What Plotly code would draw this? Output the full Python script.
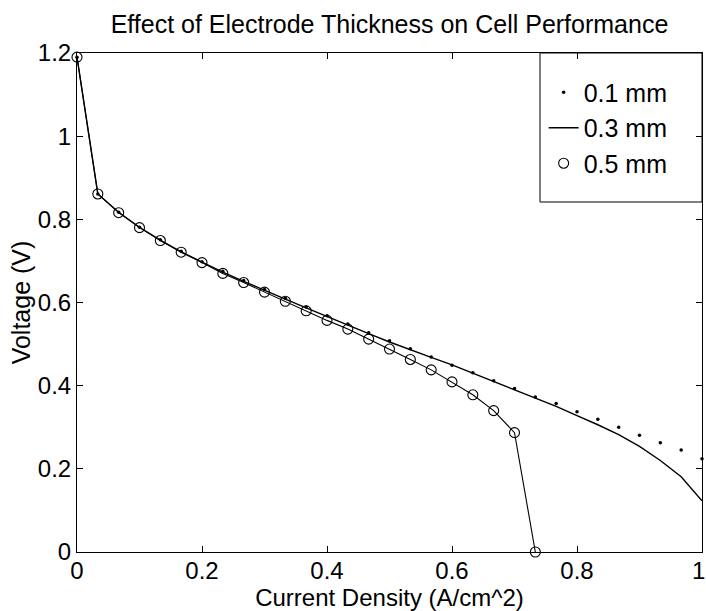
import plotly.graph_objects as go

# ---- data ----
step = 1.0 / 30.0
x_01 = [i * step for i in range(31)]
v_01 = [1.19, 0.861, 0.817, 0.781, 0.751, 0.723, 0.698, 0.675, 0.653, 0.631,
        0.610, 0.589, 0.568, 0.548, 0.527, 0.508, 0.489, 0.469, 0.449, 0.431,
        0.412, 0.393, 0.373, 0.357, 0.337, 0.319, 0.300, 0.281, 0.263, 0.245, 0.224]

x_03 = [i * step for i in range(31)]
v_03 = [1.19, 0.861, 0.817, 0.781, 0.750, 0.722, 0.697, 0.673, 0.651, 0.629,
        0.608, 0.587, 0.566, 0.546, 0.525, 0.505, 0.486, 0.468, 0.450, 0.430,
        0.410, 0.391, 0.370, 0.350, 0.328, 0.306, 0.282, 0.254, 0.220, 0.181, 0.123]

x_05 = [i * step for i in range(23)]
v_05 = [1.19, 0.861, 0.816, 0.780, 0.749, 0.721, 0.696, 0.670, 0.648, 0.625,
        0.603, 0.580, 0.557, 0.536, 0.512, 0.488, 0.463, 0.438, 0.409, 0.378,
        0.340, 0.287, 0.0]

names = ["0.1 mm", "0.3 mm", "0.5 mm"]
x_ticks = [0, 0.2, 0.4, 0.6, 0.8, 1]
x_ticktext = ["0", "0.2", "0.4", "0.6", "0.8", "1\u00a0"]
y_ticks = [0, 0.2, 0.4, 0.6, 0.8, 1, 1.2]
y_ticktext = ["0", "0.2", "0.4", "0.6", "0.8", "1", "1.2"]

FONT = "Liberation Sans, Arial, Helvetica, sans-serif"

fig = go.Figure()

# 0.3 mm solid line
fig.add_trace(go.Scatter(x=x_03, y=v_03, mode="lines", name=names[1],
                         line=dict(color="black", width=1.4),
                         legendgroup="b", legendrank=2, cliponaxis=False))
# 0.5 mm connecting line (no legend)
fig.add_trace(go.Scatter(x=x_05, y=v_05, mode="lines", showlegend=False,
                         line=dict(color="black", width=1.1), cliponaxis=False))
# 0.5 mm circles
fig.add_trace(go.Scatter(x=x_05, y=v_05, mode="markers", name=names[2],
                         marker=dict(symbol="circle-open", size=10,
                                     color="black", line=dict(width=1.1)),
                         legendgroup="c", legendrank=3, cliponaxis=False))
# 0.1 mm dots
fig.add_trace(go.Scatter(x=x_01, y=v_01, mode="markers", name=names[0],
                         marker=dict(symbol="circle", size=3.5, color="black"),
                         legendgroup="a", legendrank=1, cliponaxis=False))

# legend box
fig.add_shape(type="rect", xref="paper", yref="paper",
              x0=0.7408, x1=1.0, y0=0.7014, y1=1.0,
              line=dict(color="black", width=1), fillcolor="rgba(0,0,0,0)")

axis_common = dict(
    showgrid=False, zeroline=False, showline=True, linecolor="black",
    linewidth=1, mirror="allticks", ticks="inside", ticklen=6,
    tickcolor="black", tickwidth=1, ticklabeloverflow="allow",
    automargin=False,
    tickfont=dict(family=FONT, size=24, color="black"),
)

fig.update_layout(
    width=706, height=611,
    margin=dict(l=77, r=4, t=53, b=59),
    paper_bgcolor="white", plot_bgcolor="white",
    font=dict(family=FONT, color="black"),
    title=dict(text="Effect of Electrode Thickness on Cell Performance",
               x=0.5, xref="paper", xanchor="center",
               y=0.96, yanchor="middle", yref="container",
               font=dict(family=FONT, size=25, color="black")),
    xaxis=dict(range=[0, 1], tickvals=x_ticks, ticktext=x_ticktext, **axis_common,
               ticklabelstandoff=-3,
               title=dict(text="Current Density (A/cm^2)", standoff=0,
                          font=dict(family=FONT, size=24, color="black"))),
    yaxis=dict(range=[0, 1.2], tickvals=y_ticks, ticktext=y_ticktext, **axis_common,
               title=dict(text="Voltage (V)", standoff=0,
                          font=dict(family=FONT, size=25, color="black"))),
    showlegend=True,
    legend=dict(x=0.7466, y=0.967, xanchor="left", yanchor="top",
                bgcolor="rgba(0,0,0,0)", borderwidth=0,
                traceorder="grouped", tracegroupgap=0,
                font=dict(family=FONT, size=25, color="black")),
)

fig.write_html("out.html")
